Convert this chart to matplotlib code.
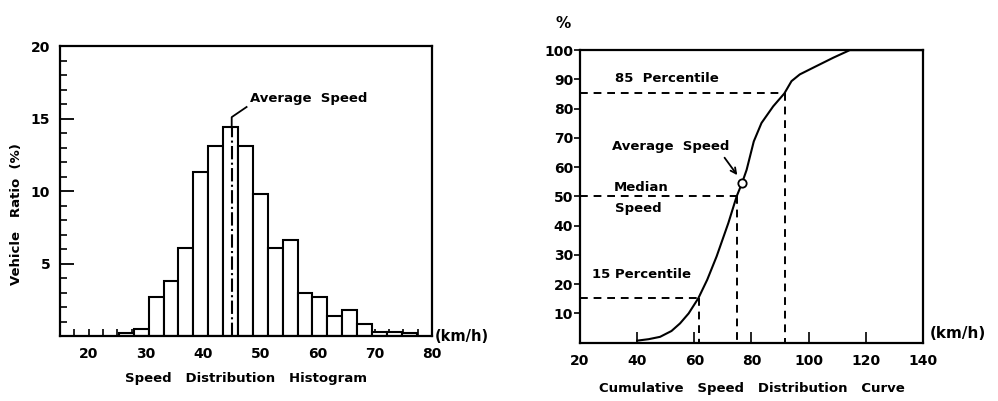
import matplotlib
matplotlib.use('Agg')
import matplotlib.pyplot as plt
import numpy as np

plt.rcParams['font.family'] = ['DejaVu Sans']
plt.rcParams['font.weight'] = 'bold'
plt.rcParams['axes.labelweight'] = 'bold'

# histogram: left edges (km/h), bin width and vehicle ratio (%)
bin_left = [25.3, 27.9, 30.5, 33.1, 35.7, 38.3, 40.9, 43.5, 46.1, 48.7,
            51.3, 53.9, 56.5, 59.1, 61.7, 64.3, 66.9, 69.5, 72.1, 74.7]
bin_width = 2.6
ratio = [0.2, 0.5, 2.7, 3.8, 6.1, 11.3, 13.1, 14.4, 13.1, 9.8,
         6.1, 6.6, 3.0, 2.7, 1.4, 1.8, 0.8, 0.3, 0.3, 0.2]
avg_speed_hist = 45.0

# cumulative curve: speed (km/h) vs cumulative percent
cum_speed = [40, 44, 48, 52, 55, 58, 61.4, 64.5, 67.8, 71.9, 74.8, 76.7,
             78.3, 80.8, 83.5, 87.6, 91.5, 94, 96.9, 101.6, 108.6, 114.4, 140]
cum_pct = [0.7, 1.2, 2.0, 4.0, 6.6, 10.0, 15.2, 21.5, 29.5, 40.9, 50.0, 54.6,
           59.1, 68.8, 75.1, 80.8, 85.2, 89.4, 91.7, 94.0, 97.4, 100, 100]
avg_speed_cum = (76.7, 54.6)
p15 = (61.6, 15.2)
p50 = (75.0, 50.0)
p85 = (91.7, 85.2)

fig = plt.figure(figsize=(9.98, 4.01), dpi=100)

# ---- left: histogram ----
ax1 = fig.add_axes([0.0601, 0.162, 0.3728, 0.723])
ax1.bar(bin_left, ratio, width=bin_width, align='edge', facecolor='white',
        edgecolor='black', linewidth=1.5, zorder=2)
ax1.plot([avg_speed_hist, avg_speed_hist], [0, 14.4], color='black',
         linestyle='-.', linewidth=1.5, zorder=3)
ax1.plot([avg_speed_hist, avg_speed_hist, 47.6], [14.4, 15.1, 15.8],
         color='black', linewidth=1.3, zorder=3)
ax1.text(48.2, 16.4, 'Average  Speed', fontsize=9.5, va='center', ha='left')

ax1.set_xlim(15, 80)
ax1.set_ylim(0, 20)
ax1.set_xticks([20, 30, 40, 50, 60, 70, 80])
ax1.set_xticks(np.arange(15, 80, 2.5), minor=True)
ax1.set_yticks([5, 10, 15, 20])
ax1.set_yticks(np.arange(1, 20, 1), minor=True)
ax1.tick_params(axis='x', which='both', direction='in', length=5, width=1.2,
                pad=8, labelsize=10)
ax1.tick_params(axis='y', which='major', direction='in', length=10, width=1.3,
                pad=7, labelsize=10)
ax1.tick_params(axis='y', which='minor', direction='in', length=5, width=1.2)
for s in ax1.spines.values():
    s.set_linewidth(1.6)
ax1.set_ylabel('Vehicle   Ratio  (%)', fontsize=9.5, fontweight='bold')
ax1.yaxis.set_label_coords(-0.1, 0.42)
ax1.text(1.008, 0.0, '(km/h)', transform=ax1.transAxes, fontsize=10.5,
         va='center', ha='left')
ax1.text(0.5, -0.145, 'Speed   Distribution   Histogram', transform=ax1.transAxes,
         fontsize=9.5, ha='center', va='center')

# ---- right: cumulative curve ----
ax2 = fig.add_axes([0.5812, 0.1454, 0.3436, 0.7296])
ax2.plot(cum_speed, cum_pct, color='black', linewidth=1.5, zorder=3)
ax2.plot(*avg_speed_cum, marker='o', markersize=6, markerfacecolor='white',
         markeredgecolor='black', markeredgewidth=1.3, zorder=4)
dash = dict(color='black', linestyle=(0, (4, 3)), linewidth=1.4, zorder=2)
for sp, pc in [p15, p50, p85]:
    ax2.plot([20, sp], [pc, pc], **dash)
    ax2.plot([sp, sp], [pc, 0], **dash)

ax2.text(32.2, 90.3, '85  Percentile', fontsize=9.5, va='center', ha='left')
ax2.text(31.1, 67.1, 'Average  Speed', fontsize=9.5, va='center', ha='left')
ax2.annotate('', xy=(75.6, 56.5), xytext=(70.0, 64.0),
             arrowprops=dict(arrowstyle='->', color='black', lw=1.3))
ax2.text(31.9, 52.9, 'Median', fontsize=9.5, va='center', ha='left')
ax2.text(32.2, 45.7, 'Speed', fontsize=9.5, va='center', ha='left')
ax2.text(24.1, 23.2, '15 Percentile', fontsize=9.5, va='center', ha='left')

ax2.set_xlim(20, 140)
ax2.set_ylim(0, 100)
ax2.set_xticks([20, 40, 60, 80, 100, 120, 140])
ax2.set_yticks([10, 20, 30, 40, 50, 60, 70, 80, 90, 100])
ax2.tick_params(axis='x', direction='in', length=8, width=1.2, pad=8,
                labelsize=10)
ax2.tick_params(axis='y', direction='out', length=4, width=1.2, pad=1,
                labelsize=10)
for s in ax2.spines.values():
    s.set_linewidth(1.6)
ax2.text(-0.05, 1.09, '%', transform=ax2.transAxes, fontsize=11,
         va='center', ha='center')
ax2.text(1.02, 0.03, '(km/h)', transform=ax2.transAxes, fontsize=11,
         va='center', ha='left')
ax2.text(0.5, -0.155, 'Cumulative   Speed   Distribution   Curve',
         transform=ax2.transAxes, fontsize=9.5, ha='center', va='center')

fig.savefig('out.png', dpi=100)
